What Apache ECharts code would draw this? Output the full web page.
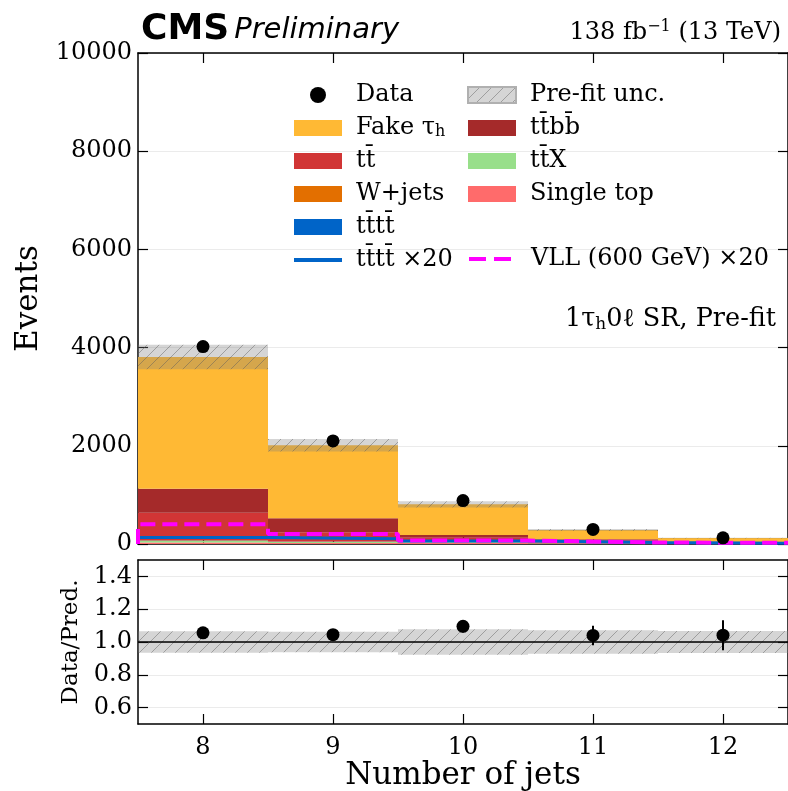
<!DOCTYPE html>
<html>
<head>
<meta charset="utf-8">
<script src="https://cdn.jsdelivr.net/npm/echarts@6/dist/echarts.min.js"></script>
<style>
  html, body { margin: 0; padding: 0; background: #fff; }
  #chart { width: 788px; height: 791px; }
</style>
</head>
<body>
<div id="chart"></div>
<script>
// bins (number of jets) and stacked backgrounds, bottom to top
const bins = [8, 9, 10, 11, 12];
const singleTop = [30, 20, 20, 15, 6];
const ttX = [30, 20, 20, 12, 6];
const wJets = [10, 5, 5, 3, 2];
const tttt = [7, 5, 3, 1.5, 1];
const ttbar = [560, 190, 80, 45, 15];
const ttbb = [490, 285, 55, 20, 8];
const fakeTau = [2681, 1485, 625, 189, 82];
// relative pre-fit uncertainty per bin
const uncRel = [0.065, 0.063, 0.077, 0.072, 0.067];
// observed data
const dataVals = [4020, 2100, 885, 297, 125];
const dataErr = [63, 46, 30, 17, 11];
// signals (x20)
const ttttX20 = [130, 108, 62, 30, 16];
const vllX20 = [400, 205, 70, 30, 25];
const ratioTicks = [0.6, 0.8, 1.0, 1.2, 1.4];

const serif = 'DejaVu Serif';
const TT = 't' + 't\u0304';

function hatch() {
  const c = document.createElement('canvas');
  c.width = 12; c.height = 12;
  const g = c.getContext('2d');
  g.fillStyle = 'rgba(128,128,128,0.33)';
  g.fillRect(0, 0, 12, 12);
  g.strokeStyle = 'rgba(90,90,90,0.45)';
  g.lineWidth = 1;
  g.beginPath();
  g.moveTo(0, 12); g.lineTo(12, 0);
  g.moveTo(-6, 6); g.lineTo(6, -6);
  g.moveTo(6, 18); g.lineTo(18, 6);
  g.stroke();
  return c;
}
const pattern = { image: hatch(), repeat: 'repeat' };

// step outline from bin values
function steps(vals) {
  const pts = [[bins[0] - 0.5, 0]];
  vals.forEach((v, i) => {
    pts.push([bins[i] - 0.5, v]);
    pts.push([bins[i] + 0.5, v]);
  });
  pts.push([bins[bins.length - 1] + 0.5, 0]);
  return pts;
}

function boxItem(fill) {
  return function (params, api) {
    const x = api.value(0);
    const p0 = api.coord([x - 0.5, api.value(1)]);
    const p1 = api.coord([x + 0.5, api.value(2)]);
    return {
      type: 'rect',
      shape: { x: p0[0], y: p1[1], width: p1[0] - p0[0], height: p0[1] - p1[1] },
      style: { fill: fill || api.visual('color') }
    };
  };
}
function errItem(params, api) {
  const x = api.value(0);
  const a = api.coord([x, api.value(1)]);
  const b = api.coord([x, api.value(2)]);
  return {
    type: 'line',
    shape: { x1: a[0], y1: a[1], x2: b[0], y2: b[1] },
    style: { stroke: '#000', lineWidth: 2 }
  };
}

const stackDefs = [
  ['Single top', singleTop, '#ff6b6b'],
  [TT + 'X', ttX, '#98df8a'],
  ['W+jets', wJets, '#e36f00'],
  [TT + TT, tttt, '#0064c8'],
  [TT, ttbar, '#d13535'],
  [TT + 'bb\u0304', ttbb, '#a52a2a'],
  ['Fake τh', fakeTau, '#ffb934']
];

const series = [];
const base = bins.map(() => 0);
stackDefs.forEach(d => {
  const rows = bins.map((b, i) => [b, base[i], base[i] + d[1][i]]);
  rows.forEach((r, i) => { base[i] = r[2]; });
  series.push({
    name: d[0],
    type: 'custom',
    xAxisIndex: 0, yAxisIndex: 0,
    renderItem: boxItem(d[2]),
    itemStyle: { color: d[2] },
    data: rows,
    z: 2
  });
});
const totals = base.slice();

series.push({
  name: 'Pre-fit unc.',
  type: 'custom',
  xAxisIndex: 0, yAxisIndex: 0,
  renderItem: boxItem(pattern),
  itemStyle: { color: pattern, borderColor: '#b0b0b0', borderWidth: 1 },
  data: bins.map((b, i) => [b, totals[i] * (1 - uncRel[i]), totals[i] * (1 + uncRel[i])]),
  z: 4
});
series.push({
  name: TT + TT + ' ×20',
  type: 'line',
  xAxisIndex: 0, yAxisIndex: 0,
  symbol: 'none',
  lineStyle: { color: '#0064c8', width: 3 },
  itemStyle: { color: '#0064c8' },
  data: steps(ttttX20),
  z: 5
});
series.push({
  name: 'VLL (600 GeV) ×20',
  type: 'line',
  xAxisIndex: 0, yAxisIndex: 0,
  symbol: 'none',
  lineStyle: { color: '#ff00ff', width: 4, type: [15, 7] },
  itemStyle: { color: '#ff00ff' },
  data: steps(vllX20),
  z: 6
});
series.push({
  name: 'Data',
  type: 'scatter',
  xAxisIndex: 0, yAxisIndex: 0,
  symbolSize: 13,
  itemStyle: { color: '#000', opacity: 1 },
  data: bins.map((b, i) => [b, dataVals[i]]),
  z: 8
});
series.push({
  type: 'custom',
  xAxisIndex: 0, yAxisIndex: 0,
  renderItem: errItem,
  data: bins.map((b, i) => [b, dataVals[i] - dataErr[i], dataVals[i] + dataErr[i]]),
  z: 7
});
// ratio panel
series.push({
  type: 'custom',
  xAxisIndex: 2, yAxisIndex: 2,
  renderItem: boxItem(pattern),
  data: bins.map((b, i) => [b, 1 - uncRel[i], 1 + uncRel[i]]),
  z: 3,
  markLine: {
    silent: true, symbol: 'none', label: { show: false },
    lineStyle: { color: '#000', type: 'solid', width: 1.5 },
    data: [{ yAxis: 1 }]
  }
});
series.push({
  type: 'scatter',
  xAxisIndex: 2, yAxisIndex: 2,
  symbolSize: 13,
  itemStyle: { color: '#000', opacity: 1 },
  data: bins.map((b, i) => [b, dataVals[i] / totals[i]]),
  z: 8
});
series.push({
  type: 'custom',
  xAxisIndex: 2, yAxisIndex: 2,
  renderItem: errItem,
  data: bins.map((b, i) => [b, (dataVals[i] - dataErr[i]) / totals[i], (dataVals[i] + dataErr[i]) / totals[i]]),
  z: 7
});

const tickIn = { show: true, inside: true, length: 10, lineStyle: { color: '#000', width: 1.2 } };
const spine = { show: true, onZero: false, lineStyle: { color: '#000', width: 1.5 } };
const labelStyle = { fontFamily: serif, fontSize: 24, color: '#000' };

function xAx(grid, pos, labels, extra) {
  return Object.assign({
    type: 'value', gridIndex: grid, position: pos, min: 7.5, max: 12.5,
    axisLine: spine,
    axisTick: Object.assign({ customValues: bins }, tickIn),
    axisLabel: Object.assign({ show: labels, customValues: bins, margin: 12 }, labelStyle),
    splitLine: { show: false }
  }, extra || {});
}

const legendText = {
  fontFamily: serif, fontSize: 24, color: '#000', padding: [0, 0, 0, 9],
  rich: {
    n: { fontFamily: serif, fontSize: 24, lineHeight: 24 },
    s: { fontFamily: serif, fontSize: 16, lineHeight: 14, verticalAlign: 'bottom' }
  }
};
function legendFmt(name) {
  if (name === 'Fake τh') return '{n|Fake τ}{s|h}';
  return '{n|' + name + '}';
}
const legendBase = {
  orient: 'vertical', itemWidth: 48, itemHeight: 16, itemGap: 9, padding: 0,
  selectedMode: false, textStyle: legendText, formatter: legendFmt
};
const noSymbol = { opacity: 0 };

const option = {
  backgroundColor: '#fff',
  animation: false,
  title: [
    {
      left: 136, top: 7,
      text: '{b|CMS} {i|Preliminary}',
      textStyle: {
        rich: {
          b: { fontFamily: 'DejaVu Sans', fontWeight: 'bold', fontSize: 36, color: '#000' },
          i: { fontFamily: 'DejaVu Sans', fontStyle: 'italic', fontWeight: 'normal', fontSize: 29, color: '#000' }
        }
      }
    },
    {
      right: 2, top: 14,
      text: '{a|138 fb}{p|−1}{a| (13 TeV)}',
      textStyle: {
        rich: {
          a: { fontFamily: serif, fontWeight: 'normal', fontSize: 24, color: '#000', lineHeight: 28 },
          p: { fontFamily: serif, fontWeight: 'normal', fontSize: 16, color: '#000', lineHeight: 14, verticalAlign: 'top' }
        }
      }
    },
    {
      right: 7, top: 300,
      text: '{a|1τ}{s|h}{a|0ℓ SR, Pre-fit}',
      textStyle: {
        rich: {
          a: { fontFamily: serif, fontWeight: 'normal', fontSize: 25.5, color: '#000', lineHeight: 28 },
          s: { fontFamily: serif, fontWeight: 'normal', fontSize: 17, color: '#000', lineHeight: 14, verticalAlign: 'bottom' }
        }
      }
    }
  ],
  legend: [
    Object.assign({}, legendBase, {
      left: 292, top: 83,
      data: [
        { name: 'Data', icon: 'circle' },
        { name: 'Fake τh', icon: 'rect' },
        { name: TT, icon: 'rect' },
        { name: 'W+jets', icon: 'rect' },
        { name: TT + TT, icon: 'rect' },
        { name: TT + TT + ' ×20', itemStyle: noSymbol, lineStyle: { width: 4 } }
      ]
    }),
    Object.assign({}, legendBase, {
      left: 467, top: 83,
      data: [
        { name: 'Pre-fit unc.', icon: 'rect' },
        { name: TT + 'bb\u0304', icon: 'rect' },
        { name: TT + 'X', icon: 'rect' },
        { name: 'Single top', icon: 'rect' }
      ]
    }),
    Object.assign({}, legendBase, {
      left: 467, top: 247,
      data: [{ name: 'VLL (600 GeV) ×20', itemStyle: noSymbol, lineStyle: { width: 4, type: [17, 8] } }]
    })
  ],
  grid: [
    { left: 138, right: 0, top: 53, height: 491, outerBoundsMode: 'none' },
    { left: 138, right: 0, top: 560, height: 164, outerBoundsMode: 'none' }
  ],
  xAxis: [
    xAx(0, 'bottom', false),
    xAx(0, 'top', false),
    xAx(1, 'bottom', true, {
      name: 'Number of jets', nameLocation: 'middle', nameGap: 36,
      nameTextStyle: { fontFamily: serif, fontSize: 31, color: '#000' }
    }),
    xAx(1, 'top', false)
  ],
  yAxis: [
    {
      type: 'value', gridIndex: 0, position: 'left', min: 0, max: 10000, interval: 2000,
      axisLine: spine, axisTick: tickIn,
      axisLabel: Object.assign({ margin: 6, formatter: v => String(v) }, labelStyle),
      splitLine: { show: true, lineStyle: { color: '#ebebeb', width: 1 } },
      name: 'Events', nameLocation: 'middle', nameGap: 82,
      nameTextStyle: { fontFamily: serif, fontSize: 31, color: '#000' }
    },
    {
      type: 'value', gridIndex: 0, position: 'right', min: 0, max: 10000, interval: 2000,
      axisLine: spine, axisTick: tickIn, axisLabel: { show: false }, splitLine: { show: false }
    },
    {
      type: 'value', gridIndex: 1, position: 'left', min: 0.5, max: 1.5,
      axisLine: spine,
      axisTick: Object.assign({ customValues: ratioTicks }, tickIn),
      axisLabel: Object.assign({ margin: 6, customValues: ratioTicks, formatter: v => v.toFixed(1) }, labelStyle),
      splitLine: { show: true, lineStyle: { color: '#ebebeb', width: 1 } },
      name: 'Data/Pred.', nameLocation: 'middle', nameGap: 47,
      nameTextStyle: { fontFamily: serif, fontSize: 23, color: '#000' }
    },
    {
      type: 'value', gridIndex: 1, position: 'right', min: 0.5, max: 1.5,
      axisLine: spine,
      axisTick: Object.assign({ customValues: ratioTicks }, tickIn),
      axisLabel: { show: false }, splitLine: { show: false }
    }
  ],
  series: series
};

const chart = echarts.init(document.getElementById('chart'), null, { renderer: 'canvas' });
chart.setOption(option);
</script>
</body>
</html>
